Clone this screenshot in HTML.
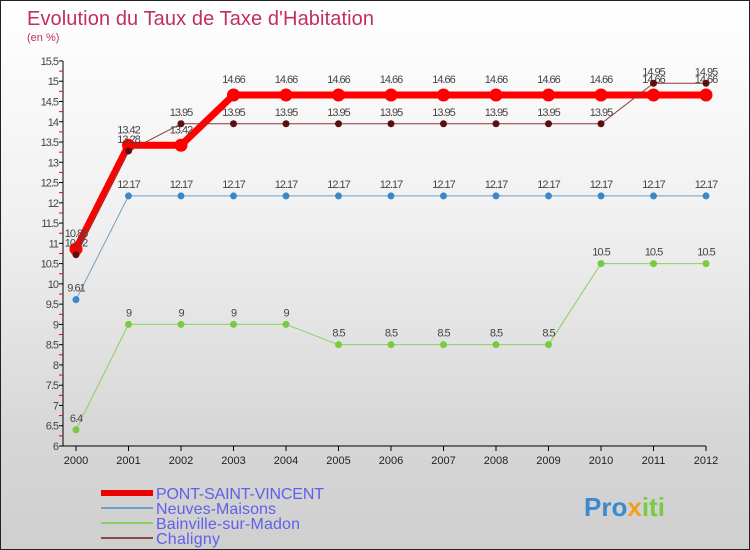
<!DOCTYPE html>
<html><head><meta charset="utf-8"><style>
body{margin:0}
#c{width:750px;height:550px;position:relative;overflow:hidden;background:linear-gradient(#ffffff 0%,#f0f0f0 40%,#d6d6d6 80%,#cfcfcf 100%);border:1px solid #222;box-sizing:border-box;font-family:"Liberation Sans",sans-serif}
text{font-family:"Liberation Sans",sans-serif}
</style></head><body>
<div id="c">
<svg id="s" width="750" height="550">
<text x="26" y="24" font-size="20" fill="#c0305a" textLength="347">Evolution du Taux de Taxe d'Habitation</text>
<text x="26" y="40" font-size="11" fill="#c0305a">(en %)</text>
</svg>
</div>
<script>
const years=["2000","2001","2002","2003","2004","2005","2006","2007","2008","2009","2010","2011","2012"];
const pont=[10.86,13.42,13.42,14.66,14.66,14.66,14.66,14.66,14.66,14.66,14.66,14.66,14.66];
const neuves=[9.61,12.17,12.17,12.17,12.17,12.17,12.17,12.17,12.17,12.17,12.17,12.17,12.17];
const bainville=[6.4,9,9,9,9,8.5,8.5,8.5,8.5,8.5,10.5,10.5,10.5];
const chaligny=[10.72,13.28,13.95,13.95,13.95,13.95,13.95,13.95,13.95,13.95,13.95,14.95,14.95];
const yTicks=[6,6.5,7,7.5,8,8.5,9,9.5,10,10.5,11,11.5,12,12.5,13,13.5,14,14.5,15,15.5];
const seriesNames=["PONT-SAINT-VINCENT","Neuves-Maisons","Bainville-sur-Madon","Chaligny"];
const ns="http://www.w3.org/2000/svg",s=document.getElementById('s');
const X=i=>75+i*52.5, Y=v=>445-(v-6)*40.53;
function el(t,a,p){const e=document.createElementNS(ns,t);for(const k in a)e.setAttribute(k,a[k]);(p||s).appendChild(e);return e;}
let ax=el('line',{x1:62,y1:Y(15.5),x2:62,y2:445,stroke:'#000'});

let bx=el('line',{x1:62,y1:445,x2:X(12),y2:445,stroke:'#000'});

yTicks.forEach(v=>{
 el('line',{x1:58,y1:Y(v),x2:62,y2:Y(v),stroke:'#000'});
 if(v<15.5) el('line',{x1:58,y1:Y(v+0.25),x2:62,y2:Y(v+0.25),stroke:'#e00'});
 const t=el('text',{x:57,y:Y(v)+4,'text-anchor':'end','font-size':11,fill:'#444','letter-spacing':'-1'});
 t.textContent=String(v);
 
});
years.forEach((y,i)=>{
 el('line',{x1:X(i),y1:445,x2:X(i),y2:450,stroke:'#000'});
 const t=el('text',{x:X(i),y:463,'text-anchor':'middle','font-size':11,fill:'#222'});
 t.textContent=y;
 
});
function series(data,color,dot,w,r,name,lblDy){
 const g=el('g',{});
 
 el('polyline',{points:data.map((v,i)=>X(i)+','+Y(v)).join(' '),fill:'none',stroke:color,'stroke-width':w,'stroke-linejoin':'round'},g);
 data.forEach((v,i)=>{
  const c=el('circle',{cx:X(i),cy:Y(v),r:r,fill:dot},g);
  
  const t=el('text',{x:X(i),y:Y(v)+lblDy,'text-anchor':'middle','font-size':11,fill:'#444','letter-spacing':'-1'},g);
  t.textContent=String(v);
 });
}
series(bainville,'#88d060','#7ac943',1,3.5,'series-bainville',-8);
series(neuves,'#6fa0c8','#3a88c8',1,3.5,'series-neuves-maisons',-8);
series(pont,'#ff0000','#ff0000',7,6.5,'series-pont-saint-vincent',-12);
series(chaligny,'#8a3a3a','#5a1010',1,3.5,'series-chaligny',-8);
const lc=[['#ee0000',6],['#6fa0c8',2],['#88d060',2],['#8a4a4a',2]];
const lw=[168,120,144,64];
seriesNames.forEach((n,i)=>{
 const g=el('g',{});
 
 const y=492+i*15;
 el('line',{x1:100,y1:y,x2:152,y2:y,stroke:lc[i][0],'stroke-width':lc[i][1]},g);
 const t=el('text',{x:155,y:y+6,'font-size':16,fill:'#6060e8',textLength:lw[i]},g);
 t.textContent=n;
});
const lg=el('text',{x:583,y:515,'font-size':26,'font-weight':'bold',fill:'#3a8ad0'});
lg.innerHTML='Pro<tspan fill="#f0a020">x</tspan><tspan fill="#7ac943">iti</tspan>';

</script>
</body></html>
